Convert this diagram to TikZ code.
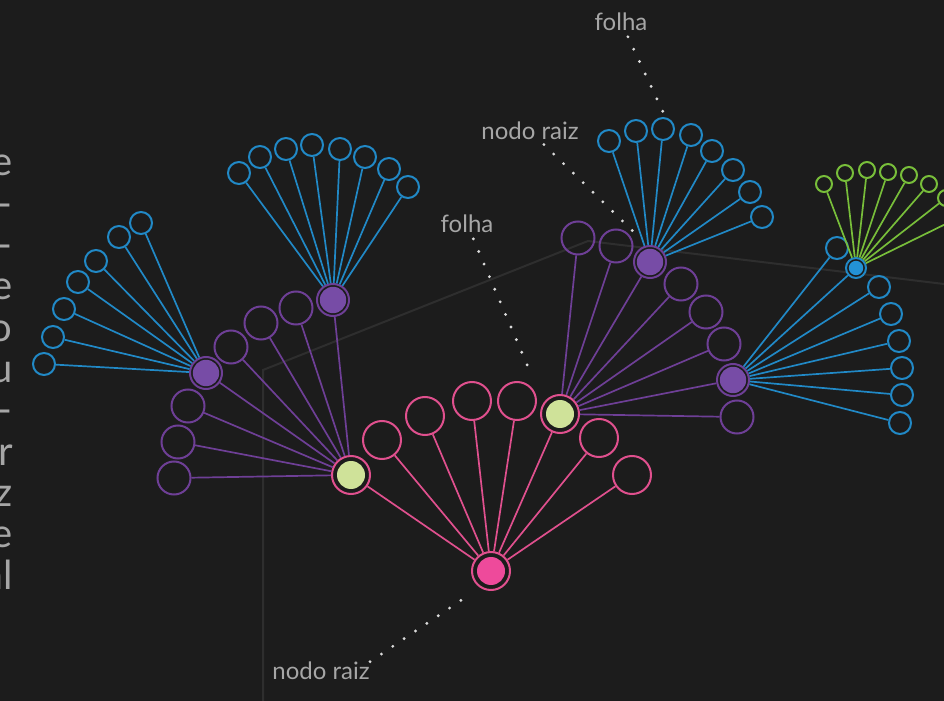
\documentclass[tikz,border=0pt]{standalone}
\usepackage{fontspec}
\setmainfont{Lato}
\usepackage{tikz}

\definecolor{bgc}{HTML}{1C1C1C}
\definecolor{gridc}{HTML}{2E2E2E}
\definecolor{txtc}{HTML}{A6A6A6}
\definecolor{dotc}{HTML}{DADADA}
\definecolor{pinkc}{HTML}{E0508E}
\definecolor{pinkf}{HTML}{EE4A9B}
\definecolor{limef}{HTML}{CFE299}
\definecolor{purpc}{HTML}{6E3F96}
\definecolor{purpf}{HTML}{774CA6}
\definecolor{bluec}{HTML}{2189C6}
\definecolor{bluef}{HTML}{2392D6}
\definecolor{greenc}{HTML}{78BE3A}

\begin{document}
\begin{tikzpicture}[x=0.5pt, y=-0.5pt,
    leaf/.style 2 args={circle, draw=#1, line width=1pt, inner sep=0pt, minimum size=#2},
    hub/.style n args={4}{circle, draw=#1, line width=1pt, fill=bgc, inner sep=0pt, minimum size=#3,
      path picture={\fill[#2] (path picture bounding box.center) circle (#4);}},
    edge/.style={draw=#1, line width=0.85pt},
    lbl/.style={text=txtc, font=\fontsize{12}{14}\selectfont, inner sep=0pt},
    side/.style={text=txtc, font=\fontsize{20}{21}\selectfont, inner sep=0pt},
    leader/.style={draw=dotc, line width=1.6pt, line cap=round, dash pattern=on 0pt off 6.85pt}]
        % Background and frame
        \fill[bgc] (0,0) rectangle (944,701);
        \useasboundingbox (0,0) rectangle (944,701);
        \draw[gridc, line width=1pt] (263,701) -- (263,370) -- (588,241) -- (944,284);
        % Running text on the left
        \foreach \t [count=\k from 0] in {e, r-, a-, e, o, u, o-, or, z, e, al} {
          \node[side, anchor=base east] (side\k) at (13,{176+41.3*\k}) {\t};
        }
        % Hubs
        \node[hub={pinkc}{pinkf}{19pt}{7pt}] (root) at (491,571) {};
        \node[hub={pinkc}{limef}{19pt}{7pt}] (g1) at (351,475) {};
        \node[hub={pinkc}{limef}{19pt}{7pt}] (g2) at (560,414) {};
        \node[hub={purpc}{purpf}{16pt}{6.6pt}] (p1) at (206,373) {};
        \node[hub={purpc}{purpf}{16pt}{6.6pt}] (p2) at (333,300) {};
        \node[hub={purpc}{purpf}{16pt}{6.6pt}] (p3) at (650,262) {};
        \node[hub={purpc}{purpf}{16pt}{6.6pt}] (p4) at (733,380) {};
        \node[hub={bluec}{bluef}{10pt}{3.6pt}] (b1) at (856,268) {};
        \draw[edge=pinkc] (root) -- (g1);
        \draw[edge=pinkc] (root) -- (g2);
        \draw[edge=purpc] (g1) -- (p1);
        \draw[edge=purpc] (g1) -- (p2);
        \draw[edge=purpc] (g2) -- (p3);
        \draw[edge=purpc] (g2) -- (p4);
        \draw[edge=bluec] (p4) -- (b1);
        % Leaves of the root
        \foreach \x/\y [count=\i] in {382/440, 425/416, 472/401, 517/401, 599/438, 632/475} {
          \node[leaf={pinkc}{19pt}] (r\i) at (\x,\y) {};
          \draw[edge=pinkc] (root) -- (r\i);
        }
        % Leaves of g1 and g2
        \foreach \x/\y [count=\i] in {174/478, 178/442, 188/406, 231/347, 261/323, 296/308} {
          \node[leaf={purpc}{16.5pt}] (ga\i) at (\x,\y) {};
          \draw[edge=purpc] (g1) -- (ga\i);
        }
        \foreach \x/\y [count=\i] in {578/238, 616/246, 681/284, 706/312, 724/344, 737/417} {
          \node[leaf={purpc}{16.5pt}] (gb\i) at (\x,\y) {};
          \draw[edge=purpc] (g2) -- (gb\i);
        }
        % Leaves of the purple hubs
        \foreach \x/\y [count=\i] in {44/364, 53/337, 64/309, 78/282, 96/261, 119/237, 141/223} {
          \node[leaf={bluec}{11pt}] (pa\i) at (\x,\y) {};
          \draw[edge=bluec] (p1) -- (pa\i);
        }
        \foreach \x/\y [count=\i] in {239/173, 260/157, 286/149, 312/145, 340/149, 365/157, 389/169, 408/187} {
          \node[leaf={bluec}{11pt}] (pb\i) at (\x,\y) {};
          \draw[edge=bluec] (p2) -- (pb\i);
        }
        \foreach \x/\y [count=\i] in {609/141, 636/131, 663/129, 691/135, 712/151, 733/170, 750/192, 762/217} {
          \node[leaf={bluec}{11pt}] (pc\i) at (\x,\y) {};
          \draw[edge=bluec] (p3) -- (pc\i);
        }
        \foreach \x/\y [count=\i] in {837/248, 879/287, 891/314, 899/341, 902/368, 902/395, 900/423} {
          \node[leaf={bluec}{11pt}] (pd\i) at (\x,\y) {};
          \draw[edge=bluec] (p4) -- (pd\i);
        }
        % Leaves of the blue hub
        \foreach \x/\y [count=\i] in {824/184, 845/173, 867/170, 888/172, 909/175, 929/184, 946/198, 962/216} {
          \node[leaf={greenc}{8pt}] (ba\i) at (\x,\y) {};
          \draw[edge=greenc] (b1) -- (ba\i);
        }
        % Labels and leaders
        \node[lbl] (folhaA) at (621,22) {folha};
        \node[lbl] (raizA) at (530,131) {nodo raiz};
        \node[lbl] (folhaB) at (467,224) {folha};
        \node[lbl] (raizB) at (321,671) {nodo raiz};
        \coordinate (tipA) at (664,114);
        \coordinate (tipB) at (642,240);
        \coordinate (tipC) at (531,374);
        \coordinate (tipD) at (463,599);
        \draw[leader, shorten <=3pt] (folhaA) -- (tipA);
        \draw[leader, shorten <=3pt] (raizA) -- (tipB);
        \draw[leader, shorten <=3pt] (folhaB) -- (tipC);
        \draw[leader] (raizB.north east) -- (tipD);
      \end{tikzpicture}
\end{document}
